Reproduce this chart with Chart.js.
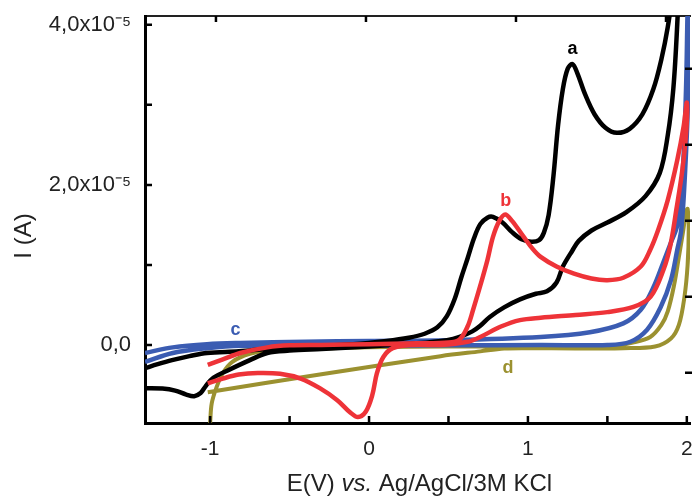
<!DOCTYPE html>
<html>
<head>
<meta charset="utf-8">
<script src="https://cdn.jsdelivr.net/npm/chart.js@4.4.1/dist/chart.umd.min.js"></script>
<style>
  html, body { margin: 0; padding: 0; background: #fff; }
</style>
</head>
<body>
<canvas id="cv" width="692" height="497"></canvas>
<script>
// E in V vs Ag/AgCl/3M KCl, I in units of 1e-5 A
const blackE = [-1.41, -1.33, -1.24, -1.13, -1.02, -0.82, -0.64, -0.4, -0.1, 0.11, 0.25, 0.35, 0.43, 0.49, 0.54, 0.58, 0.62, 0.66, 0.70, 0.745, 0.78, 0.84, 0.9, 0.96, 1.02, 1.07, 1.10, 1.13, 1.16, 1.19, 1.22, 1.25, 1.28, 1.31, 1.36, 1.42, 1.49, 1.56, 1.64, 1.72, 1.79, 1.84, 1.88, 1.91, 1.93,
  1.945, 1.94, 1.915, 1.88, 1.83, 1.74, 1.62, 1.5, 1.4, 1.32, 1.28, 1.22, 1.18, 1.12, 1.05, 0.95, 0.85, 0.76, 0.7, 0.65, 0.57, 0.49, 0.3, 0.0, -0.3, -0.5, -0.64, -0.75, -0.88, -0.98, -1.03, -1.06, -1.1, -1.15, -1.22, -1.3, -1.41];
const blackI = [-0.29, -0.24, -0.19, -0.14, -0.10, -0.08, -0.05, -0.02, 0.01, 0.05, 0.09, 0.14, 0.22, 0.36, 0.58, 0.84, 1.08, 1.33, 1.51, 1.59, 1.6, 1.53, 1.41, 1.32, 1.29, 1.31, 1.4, 1.62, 2.1, 2.75, 3.2, 3.45, 3.51, 3.4, 3.13, 2.88, 2.71, 2.65, 2.7, 2.88, 3.2, 3.57, 3.97, 4.4, 4.8,
  4.4, 4.02, 3.2, 2.62, 2.15, 1.86, 1.66, 1.53, 1.43, 1.3, 1.18, 0.98, 0.78, 0.67, 0.64, 0.57, 0.47, 0.35, 0.24, 0.17, 0.1, 0.06, 0.02, -0.02, -0.05, -0.07, -0.1, -0.19, -0.31, -0.41, -0.52, -0.6, -0.64, -0.62, -0.57, -0.545, -0.54];

const redE = [-1.015, -0.92, -0.81, -0.64, -0.5, -0.3, 0.0, 0.3, 0.5, 0.57, 0.62, 0.655, 0.70, 0.745, 0.78, 0.82, 0.857, 0.9, 0.97, 1.03, 1.08, 1.18, 1.29, 1.4, 1.5, 1.6, 1.71, 1.77, 1.82, 1.88, 1.94, 1.98, 2.0,
  1.997, 1.972, 1.934, 1.897, 1.853, 1.771, 1.664, 1.5, 1.3, 1.08, 0.95, 0.83, 0.7, 0.62, 0.45, 0.28, 0.15, 0.09, 0.05, 0.02, -0.02, -0.07, -0.12, -0.2, -0.31, -0.43, -0.56, -0.7, -0.82, -0.92, -1.015];
const redI = [-0.25, -0.18, -0.1, -0.03, -0.005, 0.0, 0.01, 0.02, 0.03, 0.07, 0.23, 0.44, 0.74, 1.06, 1.35, 1.55, 1.63, 1.55, 1.36, 1.2, 1.1, 0.98, 0.89, 0.83, 0.81, 0.84, 0.98, 1.19, 1.44, 1.81, 2.31, 2.73, 3.03,
  2.69, 2.19, 1.69, 1.25, 0.94, 0.6, 0.475, 0.41, 0.375, 0.34, 0.31, 0.23, 0.1, 0.04, 0.0, 0.0, -0.04, -0.15, -0.35, -0.63, -0.83, -0.9, -0.84, -0.69, -0.54, -0.42, -0.36, -0.35, -0.37, -0.42, -0.48];

const blueE = [-1.41, -1.235, -1.02, -0.81, -0.4, 0.0, 0.5, 1.08, 1.39, 1.6, 1.71, 1.79, 1.85, 1.9, 1.94, 1.975, 1.995, 2.005, 2.012,
  2.015, 2.008, 1.99, 1.965, 1.94, 1.9, 1.835, 1.75, 1.645, 1.5, 1.08, 0.5, 0.0, -0.4, -0.81, -1.02, -1.235, -1.41];
const blueI = [-0.1, -0.03, 0.01, 0.025, 0.04, 0.05, 0.06, 0.1, 0.16, 0.27, 0.44, 0.72, 1.02, 1.28, 1.5, 2.2, 3.2, 4.2, 4.6,
  4.2, 3.1, 2.2, 1.44, 1.19, 0.81, 0.47, 0.19, 0.04, 0.0, 0.0, -0.005, -0.01, -0.015, -0.01, -0.04, -0.1, -0.21];

const oliveE = [-1.005, -1.0, -0.99, -0.96, -0.92, -0.86, -0.75, -0.6, -0.39, 0.0, 0.5, 1.0, 1.5, 1.66, 1.77, 1.84, 1.88, 1.92, 1.95, 1.975, 1.995, 2.005,
  2.012, 2.005, 1.985, 1.95, 1.9, 1.8, 1.6, 1.3, 1.0, 0.85, 0.7, 0.45, -0.31, -1.015];
const oliveI = [-1.1, -0.97, -0.73, -0.53, -0.35, -0.21, -0.11, -0.06, -0.05, -0.03, -0.02, -0.02, -0.02, 0.03, 0.1, 0.25, 0.42, 0.75, 1.1, 1.4, 1.66, 1.7,
  1.45, 1.0, 0.6, 0.25, 0.08, -0.02, -0.04, -0.045, -0.04, -0.045, -0.08, -0.14, -0.37, -0.59];

const curveNames = ['a', 'b', 'c', 'd'];
const nameE = [1.28, 0.86, -0.84, 0.875];
const nameI = [3.7, 1.8, 0.19, -0.29];

const colors = ['#000000', '#ee3338', '#3b5cb2', '#9b9130'];

function pts(E, I) {
  return E.map((e, i) => ({ x: e, y: I[i] }));
}

Chart.defaults.font.family = "'Liberation Sans', Arial, sans-serif";
Chart.defaults.color = '#222';

const isStep = (v, s) => Math.abs(v / s - Math.round(v / s)) < 1e-6;
const noPad = s => { s.paddingTop = 0; s.paddingBottom = 0; s.paddingLeft = 0; s.paddingRight = 0; };

// ticks pointing inside the frame, titles and curve letters
const decor = {
  id: 'decor',
  afterDraw(chart) {
    const { ctx, chartArea: a, scales } = chart;
    ctx.save();
    ctx.strokeStyle = '#000';
    ctx.lineWidth = 2.5;
    ctx.beginPath();
    scales.x.ticks.forEach(t => {
      const p = scales.x.getPixelForValue(t.value);
      ctx.moveTo(p, a.bottom); ctx.lineTo(p, a.bottom - 7);
    });
    scales.y.ticks.forEach(t => {
      const p = scales.y.getPixelForValue(t.value);
      ctx.moveTo(a.left, p); ctx.lineTo(a.left + 7, p);
    });
    scales.x2.ticks.forEach(t => {
      const p = scales.x2.getPixelForValue(t.value);
      ctx.moveTo(p, a.top); ctx.lineTo(p, a.top + 6);
    });
    scales.y2.ticks.forEach(t => {
      const p = scales.y2.getPixelForValue(t.value);
      ctx.moveTo(chart.width, p); ctx.lineTo(chart.width - 7, p);
    });
    ctx.stroke();

    // x title with italic "vs."
    const parts = [['E(V) ', 'normal'], ['vs.', 'italic'], [' Ag/AgCl/3M KCl', 'normal']];
    const fam = "'Liberation Sans', Arial, sans-serif";
    let total = 0;
    parts.forEach(p => { ctx.font = p[1] + ' 24px ' + fam; total += ctx.measureText(p[0]).width; });
    let x = (a.left + a.right) / 2 + 2 - total / 2;
    ctx.fillStyle = '#222';
    ctx.textBaseline = 'alphabetic';
    ctx.textAlign = 'left';
    parts.forEach(p => {
      ctx.font = p[1] + ' 24px ' + fam;
      ctx.fillText(p[0], x, 491);
      x += ctx.measureText(p[0]).width;
    });

    // y title
    ctx.save();
    ctx.translate(24, 236);
    ctx.rotate(-Math.PI / 2);
    ctx.textAlign = 'center';
    ctx.textBaseline = 'middle';
    ctx.font = '24px ' + fam;
    ctx.fillText('I (A)', 0, 0);
    ctx.restore();

    // curve letters
    ctx.font = 'bold 18px ' + fam;
    ctx.textAlign = 'center';
    ctx.textBaseline = 'middle';
    curveNames.forEach((n, i) => {
      ctx.fillStyle = colors[i];
      ctx.fillText(n, scales.x.getPixelForValue(nameE[i]), scales.y.getPixelForValue(nameI[i]));
    });
    ctx.restore();
  }
};

const ds = (label, E, I, color, order, width) => ({
  label, data: pts(E, I), showLine: true, borderColor: color, borderWidth: width,
  pointRadius: 0, tension: 0.35, fill: false, clip: 0, order
});

new Chart(document.getElementById('cv'), {
  type: 'scatter',
  data: {
    datasets: [
      ds('b', redE, redI, colors[1], 0, 4.5),
      ds('a', blackE, blackI, colors[0], 1, 4.5),
      ds('c', blueE, blueI, colors[2], 2, 4.5),
      ds('d', oliveE, oliveI, colors[3], 3, 4)
    ]
  },
  options: {
    responsive: false,
    animation: false,
    layout: { padding: 0 },
    plugins: { legend: { display: false }, tooltip: { enabled: false } },
    scales: {
      x: {
        type: 'linear', position: 'bottom', min: -1.41, max: 2.02,
        grid: { display: false, drawTicks: false },
        border: { display: true, color: '#000', width: 3 },
        ticks: {
          stepSize: 0.5, includeBounds: false, padding: 14, maxRotation: 0, autoSkip: false,
          font: { size: 21 },
          callback: v => isStep(v, 1) ? String(Math.round(v)) : ''
        },
        afterBuildTicks: s => { s.ticks = s.ticks.filter(t => isStep(t.value, 0.5)); },
        afterFit: s => { s.height = 74; noPad(s); }
      },
      x2: {
        type: 'linear', position: 'top', min: -0.473, max: 3.16,
        grid: { display: false, drawTicks: false },
        border: { display: true, color: '#222', width: 2 },
        ticks: { display: false, stepSize: 1, includeBounds: false },
        afterBuildTicks: s => { s.ticks = s.ticks.filter(t => isStep(t.value, 1)); },
        afterFit: s => { s.height = 16; noPad(s); }
      },
      y: {
        type: 'linear', position: 'left', min: -0.975, max: 4.11,
        grid: { display: false, drawTicks: false },
        border: { display: true, color: '#000', width: 3 },
        ticks: {
          stepSize: 1, includeBounds: false, padding: 14, autoSkip: false,
          font: { size: 22 },
          callback: v => {
            const n = Math.round(v);
            if (n === 0) return '0,0';
            return n % 2 === 0 ? n + ',0x10\u207B\u2075' : '';
          }
        },
        afterBuildTicks: s => { s.ticks = s.ticks.filter(t => isStep(t.value, 1)); },
        afterFit: s => { s.width = 145; noPad(s); }
      },
      y2: {
        type: 'linear', position: 'right', min: -0.66, max: 4.695,
        grid: { display: false, drawTicks: false },
        border: { display: false },
        ticks: { display: false, stepSize: 1, includeBounds: false },
        afterBuildTicks: s => { s.ticks = s.ticks.filter(t => isStep(t.value, 1)); },
        afterFit: s => { s.width = 2; noPad(s); }
      }
    }
  },
  plugins: [decor]
});
</script>
</body>
</html>
